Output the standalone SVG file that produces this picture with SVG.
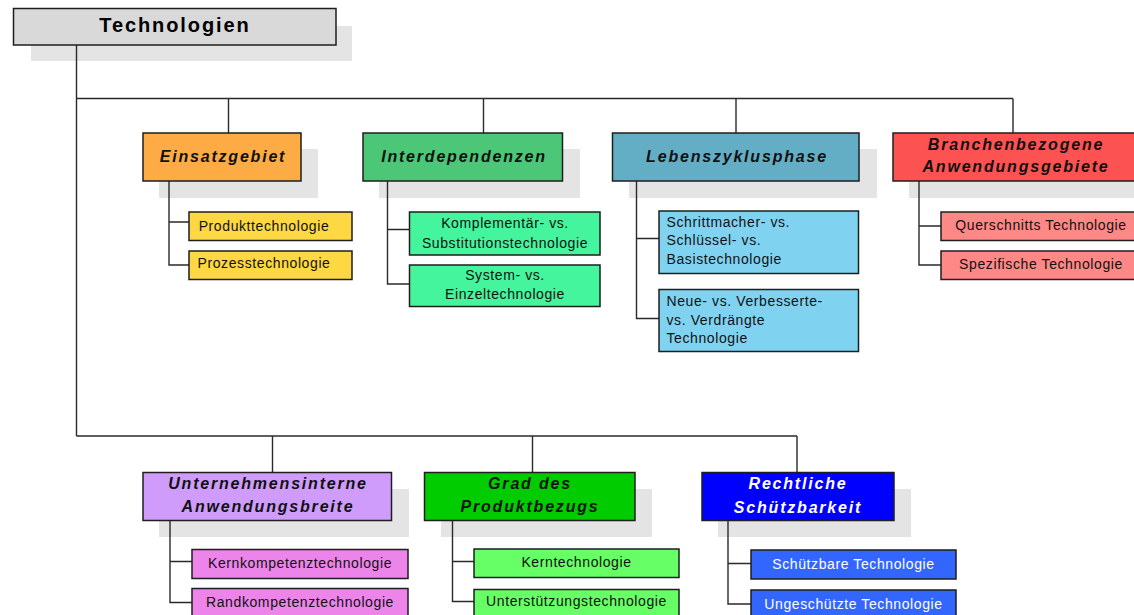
<svg xmlns="http://www.w3.org/2000/svg" width="1134" height="615" viewBox="0 0 1134 615">
  <style>
    .bg { fill: #ffffff; }
    .shadow { fill: #e4e4e4; }
    .box { stroke: #1e1e1e; stroke-width: 1.5; }
    .wire { fill: none; stroke: #2a2a2a; stroke-width: 1.4; }
    .root { font-family: "Liberation Sans", Arial, sans-serif; font-size: 20px; font-weight: bold; letter-spacing: 1.9px; fill: #000; text-anchor: middle; }
    .head { font-family: "Liberation Sans", Arial, sans-serif; font-size: 16px; font-weight: bold; font-style: italic; letter-spacing: 1.8px; fill: #111; text-anchor: middle; }
    .item { font-family: "Liberation Sans", Arial, sans-serif; font-size: 14px; letter-spacing: 0.6px; fill: #111; text-anchor: middle; }
    .left { text-anchor: start; }
    .white { fill: #ffffff; }
    .c-root { fill: #d9d9d9; }
    .c-ein { fill: #fcab45; }
    .c-ein2 { fill: #fed843; }
    .c-int { fill: #4cc777; }
    .c-int2 { fill: #44f59d; }
    .c-leb { fill: #64aec5; }
    .c-leb2 { fill: #7fd3f1; }
    .c-bra { fill: #fc5252; }
    .c-bra2 { fill: #fd8886; }
    .c-unt { fill: #cf9cfb; }
    .c-unt2 { fill: #ec84ea; }
    .c-grad { fill: #00cc00; }
    .c-grad2 { fill: #66ff66; }
    .c-rec { fill: #0000ff; }
    .c-rec2 { fill: #3366ff; }
  </style>

  <rect class="bg" x="0" y="0" width="1134" height="615"/>

  <!-- drop shadows behind the category boxes -->
  <g id="shadows">
    <rect class="shadow" x="31" y="26" width="321" height="35"/>
    <rect class="shadow" x="159" y="149" width="159" height="49"/>
    <rect class="shadow" x="379" y="149" width="201" height="49"/>
    <rect class="shadow" x="629" y="149" width="248" height="49"/>
    <rect class="shadow" x="909" y="149" width="240" height="49"/>
    <rect class="shadow" x="159" y="489" width="250" height="48"/>
    <rect class="shadow" x="441" y="489" width="211" height="48"/>
    <rect class="shadow" x="718" y="489" width="193" height="48"/>
  </g>

  <!-- connectors -->
  <g id="connectors">
    <path class="wire" d="M76.5 45 V436 M76.5 98.5 H1013 M228.5 98.5 V133 M483.5 98.5 V133 M736 98.5 V133 M1013 98.5 V133"/>
    <path class="wire" d="M76.5 436 H797 M272.5 436 V472 M532.5 436 V472 M797 436 V472"/>
    <path class="wire" d="M169 181 V265 H189 M169 222 H189"/>
    <path class="wire" d="M387.5 181 V284 H409 M387.5 229.5 H409"/>
    <path class="wire" d="M636.5 181 V318.5 H659 M636.5 238.5 H659"/>
    <path class="wire" d="M919 181 V265 H941 M919 226 H941"/>
    <path class="wire" d="M170 520 V602.5 H192 M170 561.5 H192"/>
    <path class="wire" d="M452.5 520 V601.5 H474 M452.5 561.5 H474"/>
    <path class="wire" d="M728 520 V604 H751 M728 563.5 H751"/>
  </g>

  <g id="technologien">
    <rect class="box c-root" x="13.5" y="8.5" width="322.5" height="36.5"/>
    <text class="root" x="175" y="32">Technologien</text>
  </g>

  <g id="einsatzgebiet">
    <rect class="box c-ein" x="143" y="133" width="158" height="48"/>
    <text class="head" x="223" y="161.5">Einsatzgebiet</text>
  </g>
  <g id="produkttechnologie">
    <rect class="box c-ein2" x="189" y="212" width="163" height="28.5"/>
    <text class="item" x="264" y="230.5">Produkttechnologie</text>
  </g>
  <g id="prozesstechnologie">
    <rect class="box c-ein2" x="189" y="251" width="163" height="28.5"/>
    <text class="item" x="264" y="268">Prozesstechnologie</text>
  </g>

  <g id="interdependenzen">
    <rect class="box c-int" x="363" y="133" width="199.5" height="48"/>
    <text class="head" x="464" y="161.5">Interdependenzen</text>
  </g>
  <g id="komplementaer">
    <rect class="box c-int2" x="409.5" y="212" width="190.5" height="43"/>
    <text class="item" x="505" y="228">Komplementär- vs.</text>
    <text class="item" x="505" y="247.5">Substitutionstechnologie</text>
  </g>
  <g id="system">
    <rect class="box c-int2" x="409.5" y="265" width="190.5" height="41.5"/>
    <text class="item" x="505" y="280">System- vs.</text>
    <text class="item" x="505" y="298.5">Einzeltechnologie</text>
  </g>

  <g id="lebenszyklusphase">
    <rect class="box c-leb" x="612.5" y="133" width="246.5" height="48"/>
    <text class="head" x="737" y="162">Lebenszyklusphase</text>
  </g>
  <g id="schrittmacher">
    <rect class="box c-leb2" x="659" y="211" width="199.5" height="62.5"/>
    <text class="item left" x="666.5" y="226.5">Schrittmacher- vs.</text>
    <text class="item left" x="666.5" y="245">Schlüssel- vs.</text>
    <text class="item left" x="666.5" y="263.5">Basistechnologie</text>
  </g>
  <g id="neue">
    <rect class="box c-leb2" x="659" y="289.5" width="199.5" height="62"/>
    <text class="item left" x="666.5" y="306">Neue- vs. Verbesserte-</text>
    <text class="item left" x="666.5" y="324.5">vs. Verdrängte</text>
    <text class="item left" x="666.5" y="343">Technologie</text>
  </g>

  <g id="branchenbezogene">
    <rect class="box c-bra" x="893" y="133" width="245" height="48"/>
    <text class="head" x="1016" y="150">Branchenbezogene</text>
    <text class="head" x="1016" y="171.5">Anwendungsgebiete</text>
  </g>
  <g id="querschnitts">
    <rect class="box c-bra2" x="941" y="212" width="200" height="28.5"/>
    <text class="item" x="1041" y="230">Querschnitts Technologie</text>
  </g>
  <g id="spezifische">
    <rect class="box c-bra2" x="941" y="251" width="200" height="28.5"/>
    <text class="item" x="1041" y="268.5">Spezifische Technologie</text>
  </g>

  <g id="unternehmensinterne">
    <rect class="box c-unt" x="143" y="472.5" width="248.5" height="48"/>
    <text class="head" x="268" y="488.5">Unternehmensinterne</text>
    <text class="head" x="268" y="511.5">Anwendungsbreite</text>
  </g>
  <g id="kernkompetenz">
    <rect class="box c-unt2" x="192" y="549.5" width="216" height="29"/>
    <text class="item" x="300" y="567.5">Kernkompetenztechnologie</text>
  </g>
  <g id="randkompetenz">
    <rect class="box c-unt2" x="192" y="588.5" width="216" height="29"/>
    <text class="item" x="300" y="607">Randkompetenztechnologie</text>
  </g>

  <g id="grad">
    <rect class="box c-grad" x="424.5" y="472.5" width="210.5" height="48"/>
    <text class="head" x="530" y="488.5">Grad des</text>
    <text class="head" x="530" y="512">Produktbezugs</text>
  </g>
  <g id="kerntechnologie">
    <rect class="box c-grad2" x="474" y="549" width="205" height="28.5"/>
    <text class="item" x="576.5" y="567">Kerntechnologie</text>
  </g>
  <g id="unterstuetzung">
    <rect class="box c-grad2" x="474" y="589.5" width="205" height="29"/>
    <text class="item" x="576.5" y="606">Unterstützungstechnologie</text>
  </g>

  <g id="rechtliche">
    <rect class="box c-rec" x="702" y="472.5" width="192" height="48"/>
    <text class="head white" x="798" y="489">Rechtliche</text>
    <text class="head white" x="798" y="512.5">Schützbarkeit</text>
  </g>
  <g id="schuetzbar">
    <rect class="box c-rec2" x="751" y="550" width="205" height="29"/>
    <text class="item white" x="853.5" y="569">Schützbare Technologie</text>
  </g>
  <g id="ungeschuetzt">
    <rect class="box c-rec2" x="751" y="590" width="205" height="29"/>
    <text class="item white" x="853.5" y="609">Ungeschützte Technologie</text>
  </g>
</svg>
